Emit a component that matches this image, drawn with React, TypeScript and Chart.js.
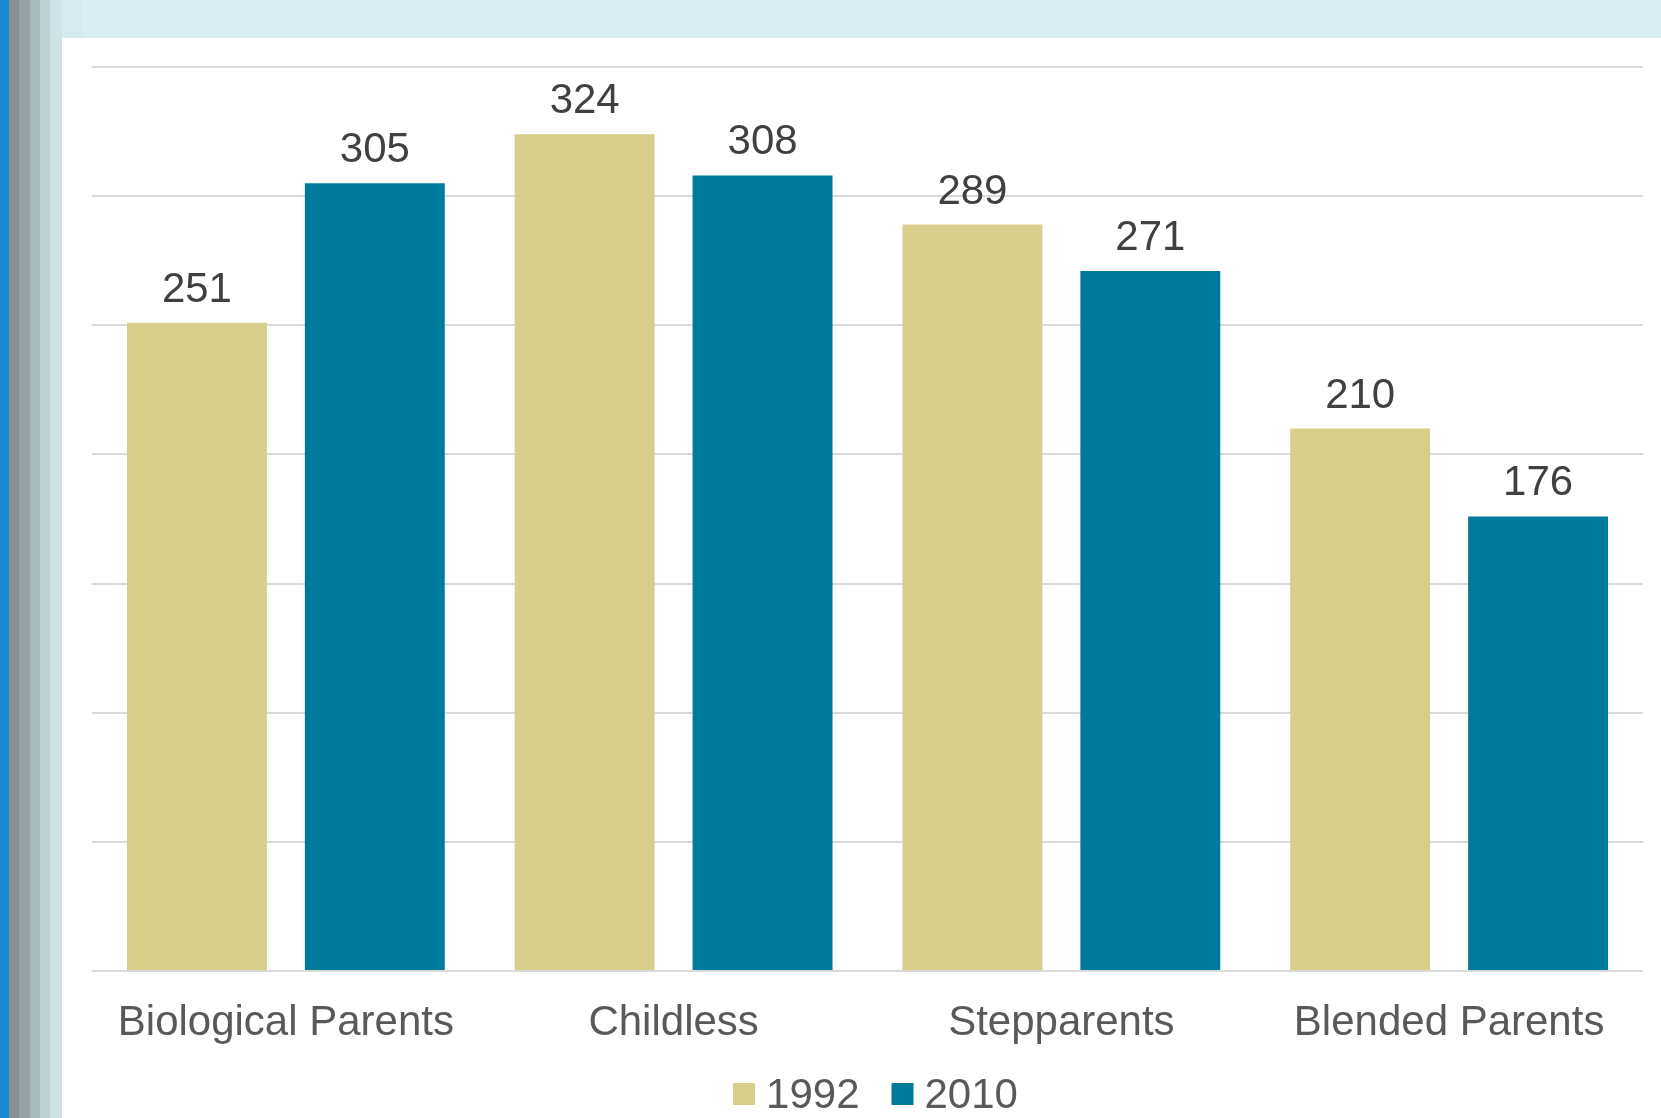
import React, { useEffect, useRef } from "react";
import { Chart, registerables } from "chart.js";

Chart.register(...registerables);

const categories = ["Biological Parents", "Childless", "Stepparents", "Blended Parents"];
const series1992 = [251, 324, 289, 210];
const series2010 = [305, 308, 271, 176];
const seriesLabels = ["1992", "2010"];
const seriesColors = ["#D6CE8A", "#007A9A"];
const yMax = 350;
const yStep = 50;

const FONT = "'Liberation Sans', Arial, sans-serif";

const backgroundPlugin = {
  id: "bgDecor",
  beforeDraw(chart: any) {
    const ctx = chart.ctx;
    const W = chart.width;
    const H = chart.height;
    ctx.save();
    ctx.fillStyle = "#ffffff";
    ctx.fillRect(0, 0, W, H);
    // top band
    ctx.fillStyle = "#DAEDF0";
    ctx.fillRect(0, 0, W, 38);
    ctx.fillStyle = "#D7EAED";
    ctx.fillRect(62, 0, 20, 38);
    // left stripes
    const stripes: [number, number, string][] = [
      [0, 9, "#1A8AD6"],
      [9, 19, "#878F91"],
      [19, 30, "#97A2A4"],
      [30, 40, "#A9BABD"],
      [40, 50, "#BDD0D4"],
      [50, 62, "#CFE3E7"],
    ];
    for (const [x0, x1, c] of stripes) {
      ctx.fillStyle = c;
      ctx.fillRect(x0, 0, x1 - x0, H);
    }
    ctx.restore();
  },
};

const labelsPlugin = {
  id: "valueLabels",
  afterDatasetsDraw(chart: any) {
    const ctx = chart.ctx;
    ctx.save();
    ctx.font = `42px ${FONT}`;
    ctx.fillStyle = "#404040";
    ctx.textAlign = "center";
    ctx.textBaseline = "alphabetic";
    chart.data.datasets.forEach((ds: any, i: number) => {
      const meta = chart.getDatasetMeta(i);
      meta.data.forEach((bar: any, j: number) => {
        ctx.fillText(String(ds.data[j]), bar.x, bar.y - 21);
      });
    });
    ctx.restore();
  },
  afterDraw(chart: any) {
    // legend
    const ctx = chart.ctx;
    const area = chart.chartArea;
    ctx.save();
    ctx.font = `42px ${FONT}`;
    const box = 22;
    const gapText = 11;
    const gapItem = 32;
    const items = chart.data.datasets.map((ds: any) => ({
      label: ds.label,
      color: ds.backgroundColor,
      w: ctx.measureText(ds.label).width,
    }));
    let total = 0;
    items.forEach((it: any, i: number) => {
      total += box + gapText + it.w + (i < items.length - 1 ? gapItem : 0);
    });
    let x = (area.left + area.right) / 2 + 8 - total / 2;
    const baseline = 1108;
    items.forEach((it: any) => {
      ctx.fillStyle = it.color;
      ctx.fillRect(x, 1083, box, box);
      x += box + gapText;
      ctx.fillStyle = "#595959";
      ctx.textAlign = "left";
      ctx.textBaseline = "alphabetic";
      ctx.fillText(it.label, x, baseline);
      x += it.w + gapItem;
    });
    ctx.restore();
  },
};

export default function App() {
  const ref = useRef<HTMLCanvasElement | null>(null);
  useEffect(() => {
    if (!ref.current) return;
    const chart = new Chart(ref.current, {
      type: "bar",
      data: {
        labels: categories,
        datasets: [
          {
            label: seriesLabels[0],
            data: series1992,
            backgroundColor: seriesColors[0],
            categoryPercentage: 0.9175,
            barPercentage: 0.7865,
          },
          {
            label: seriesLabels[1],
            data: series2010,
            backgroundColor: seriesColors[1],
            categoryPercentage: 0.9175,
            barPercentage: 0.7865,
          },
        ],
      },
      options: {
        responsive: false,
        animation: false,
        devicePixelRatio: 1,
        layout: { padding: { left: 92, right: 18, top: 67, bottom: 0 } },
        plugins: {
          legend: { display: false },
          tooltip: { enabled: false },
          title: { display: false },
        },
        scales: {
          x: {
            grid: { display: false, drawTicks: false },
            border: { display: false },
            ticks: {
              color: "#595959",
              font: { family: FONT, size: 42 },
              padding: 27,
              maxRotation: 0,
              autoSkip: false,
            },
            afterFit: (scale: any) => {
              scale.height = 147;
            },
          },
          y: {
            min: 0,
            max: yMax,
            ticks: { display: false, stepSize: yStep },
            grid: { color: "#D9D9D9", lineWidth: 2, drawTicks: false },
            border: { display: false },
            afterFit: (scale: any) => {
              scale.width = 0;
            },
          },
        },
      },
      plugins: [backgroundPlugin, labelsPlugin],
    });
    return () => chart.destroy();
  }, []);
  return (
    <div style={{ position: "fixed", left: 0, top: 0, width: 1661, height: 1118 }}>
      <canvas ref={ref} width={1661} height={1118} style={{ display: "block", width: 1661, height: 1118 }} />
    </div>
  );
}
